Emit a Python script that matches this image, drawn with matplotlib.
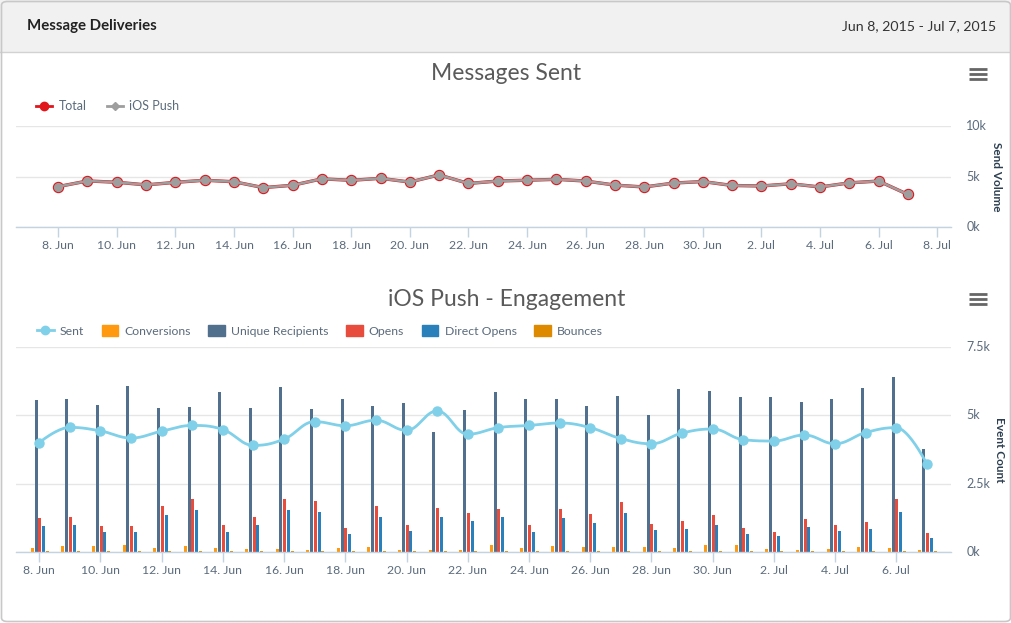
import numpy as np
import matplotlib
matplotlib.use('Agg')
import matplotlib.pyplot as plt
from matplotlib.patches import FancyBboxPatch, Rectangle, Patch
from matplotlib.lines import Line2D

plt.rcParams['font.family'] = ['Lato', 'DejaVu Sans']

# Days since 8 Jun 2015
days = list(range(30))
top_ticks = list(range(0, 31, 2))
top_tick_labels = ['8. Jun', '10. Jun', '12. Jun', '14. Jun', '16. Jun', '18. Jun',
                   '20. Jun', '22. Jun', '24. Jun', '26. Jun', '28. Jun', '30. Jun',
                   '2. Jul', '4. Jul', '6. Jul', '8. Jul']
bottom_ticks = top_ticks[:-1]
bottom_tick_labels = top_tick_labels[:-1]

# Messages sent (total and iOS push are the same series)
total_sent = [4000, 4560, 4430, 4170, 4420, 4630, 4480, 3900, 4130, 4770,
              4620, 4820, 4450, 5160, 4310, 4550, 4630, 4720, 4550, 4150,
              3960, 4350, 4500, 4110, 4060, 4280, 3960, 4370, 4550, 3220]
ios_sent = list(total_sent)

# Engagement
conversions = [150, 220, 220, 260, 150, 220, 150, 110, 110, 70,
               150, 180, 70, 70, 70, 260, 150, 220, 180, 180,
               180, 150, 260, 260, 110, 70, 110, 180, 150, 70]
unique_recipients = [5560, 5600, 5380, 6070, 5270, 5310, 5850, 5270, 6040, 5230,
                     5600, 5340, 5450, 4390, 5200, 5850, 5600, 5600, 5340, 5710,
                     5010, 5960, 5890, 5670, 5670, 5490, 5600, 6000, 6400, 3770]
opens = [1240, 1280, 950, 950, 1680, 1940, 990, 1280, 1940, 1870,
         880, 1680, 990, 1610, 1430, 1570, 990, 1570, 1390, 1830,
         1020, 1130, 1350, 880, 730, 1210, 990, 1100, 1940, 700]
direct_opens = [950, 990, 730, 730, 1350, 1540, 730, 990, 1540, 1460,
                660, 1280, 770, 1280, 1130, 1280, 730, 1240, 1060, 1430,
                800, 840, 990, 660, 590, 910, 770, 840, 1460, 510]
bounces = [30, 40, 30, 30, 40, 30, 30, 30, 40, 30,
           30, 30, 30, 30, 40, 30, 30, 30, 30, 40,
           30, 30, 30, 30, 30, 30, 30, 40, 30, 30]

C_TOTAL = '#e0161c'
C_IOS = '#9e9e9e'
C_SENT = '#7fd0e8'
C_CONV = '#ff9a10'
C_UNIQUE = '#51708d'
C_OPENS = '#e74c3c'
C_DIRECT = '#2a80ba'
C_BOUNCE = '#de8a00'
C_TEXT = '#5b6b7c'
C_AXIS = '#c5d2e0'
C_GRID = '#e6e6e6'

W, H = 1012, 623


def fx(px):
    return px / W


def fy(py):
    return 1 - py / H


def spline(x, y, smoothing=1.5, n=24):
    # Highcharts style spline through the points
    x = np.asarray(x, float)
    y = np.asarray(y, float)
    m = len(x)
    lc = np.column_stack([x, y]).copy()
    rc = lc.copy()
    for i in range(1, m - 1):
        lx = (smoothing * x[i] + x[i - 1]) / (smoothing + 1)
        ly = (smoothing * y[i] + y[i - 1]) / (smoothing + 1)
        rx = (smoothing * x[i] + x[i + 1]) / (smoothing + 1)
        ry = (smoothing * y[i] + y[i + 1]) / (smoothing + 1)
        corr = ((ry - ly) * (rx - x[i])) / (rx - lx) + y[i] - ry
        ly += corr
        ry += corr
        if ly > y[i - 1] and ly > y[i]:
            ly = max(y[i - 1], y[i]); ry = 2 * y[i] - ly
        elif ly < y[i - 1] and ly < y[i]:
            ly = min(y[i - 1], y[i]); ry = 2 * y[i] - ly
        if ry > y[i + 1] and ry > y[i]:
            ry = max(y[i + 1], y[i]); ly = 2 * y[i] - ry
        elif ry < y[i + 1] and ry < y[i]:
            ry = min(y[i + 1], y[i]); ly = 2 * y[i] - ry
        lc[i] = (lx, ly)
        rc[i] = (rx, ry)
    t = np.linspace(0, 1, n)[:, None]
    out = []
    for i in range(m - 1):
        p0 = np.array([x[i], y[i]]); p3 = np.array([x[i + 1], y[i + 1]])
        p1 = rc[i]; p2 = lc[i + 1]
        seg = ((1 - t) ** 3) * p0 + 3 * ((1 - t) ** 2) * t * p1 + 3 * (1 - t) * t ** 2 * p2 + t ** 3 * p3
        out.append(seg if i == 0 else seg[1:])
    out = np.vstack(out)
    return out[:, 0], out[:, 1]


def style_axis(ax, ticks, labels, yticks, ylabels, ylim):
    ax.set_ylim(*ylim)
    ax.set_yticks(yticks)
    ax.set_yticklabels(ylabels)
    ax.set_xticks(ticks)
    ax.set_xticklabels(labels)
    ax.yaxis.tick_right()
    ax.grid(axis='y', color=C_GRID, lw=1)
    ax.set_axisbelow(True)
    for s in ['top', 'left', 'right']:
        ax.spines[s].set_visible(False)
    ax.spines['bottom'].set_color(C_AXIS)
    ax.spines['bottom'].set_linewidth(1)
    ax.tick_params(axis='x', colors=C_AXIS, length=7, width=1, pad=2.5,
                   labelcolor=C_TEXT, labelsize=8.8)
    ax.tick_params(axis='y', length=0, pad=11, labelcolor=C_TEXT, labelsize=9)
    for lab in ax.get_yticklabels():
        lab.set_verticalalignment('center')


fig = plt.figure(figsize=(W / 100, H / 100), dpi=100)

# card background, header band, border
fig.patches.append(Rectangle((0, fy(52)), 1, 52 / H, transform=fig.transFigure,
                             facecolor='#f1f1f1', edgecolor='none', zorder=0))
fig.lines.append(Line2D([0, 1], [fy(52), fy(52)], transform=fig.transFigure,
                        color='#d2d2d2', lw=1))
fig.patches.append(FancyBboxPatch((fx(1.5), fy(621.5)), fx(1009), 620 / H,
                                  boxstyle='round,pad=0,rounding_size=0.006',
                                  transform=fig.transFigure, facecolor='none',
                                  edgecolor='#c8c8c8', lw=1.2, zorder=5))
fig.text(fx(27), fy(26), 'Message Deliveries', fontsize=10.8, fontweight='bold',
         color='#222222', va='center', ha='left')
fig.text(fx(996), fy(26), 'Jun 8, 2015 - Jul 7, 2015', fontsize=10.2,
         color='#333333', va='center', ha='right')

# hamburger menus
for cy in (74, 299):
    for dy in (-5, 0, 5):
        fig.lines.append(Line2D([fx(969), fx(987)], [fy(cy + dy), fy(cy + dy)],
                                transform=fig.transFigure, color='#666666',
                                lw=2.0, solid_capstyle='butt'))

# ---- Messages Sent ----
ax1 = fig.add_axes([fx(16), fy(227), fx(951 - 16), 101 / H])
ax1.set_xlim(-1.44, 30.47)
ax1.plot(days, total_sent, color=C_TOTAL, lw=2.4, marker='o', ms=7.2,
         markerfacecolor=C_TOTAL, markeredgecolor=C_TOTAL, zorder=3)
ax1.plot(days, ios_sent, color=C_IOS, lw=1.8, marker='o', ms=5.6,
         markerfacecolor=C_IOS, markeredgecolor=C_IOS, zorder=4)
style_axis(ax1, top_ticks, top_tick_labels, [0, 5000, 10000],
           ['0k', '5k', '10k'], (0, 10000))
fig.text(fx(506), fy(74), 'Messages Sent', fontsize=16.5,
         color='#5a5a5a', ha='center', va='center')
fig.text(fx(997), fy(177), 'Send Volume', fontsize=8.5, fontweight='bold',
         color='#2c3e50', rotation=-90, ha='center', va='center')
leg1 = fig.legend(handles=[
    Line2D([], [], color=C_TOTAL, lw=2, marker='o', ms=6),
    Line2D([], [], color=C_IOS, lw=2, marker='D', ms=4.5)],
    labels=['Total', 'iOS Push'], loc='center left',
    bbox_to_anchor=(fx(36), fy(106)), ncol=2, frameon=False, fontsize=9,
    handlelength=1.3, handletextpad=0.5, columnspacing=1.6,
    borderpad=0, borderaxespad=0)
for t in leg1.get_texts():
    t.set_color(C_TEXT)

# ---- iOS Push - Engagement ----
ax2 = fig.add_axes([fx(16), fy(552), fx(951 - 16), 205 / H])
ax2.set_xlim(-0.76, 29.79)
x = np.array(days, float)
step = 0.124
bw = 0.098
series = [(conversions, C_CONV), (unique_recipients, C_UNIQUE), (opens, C_OPENS),
          (direct_opens, C_DIRECT), (bounces, C_BOUNCE)]
for k, (vals, col) in enumerate(series):
    ax2.bar(x + (k - 2) * step + 0.02, vals, width=bw, color=col, zorder=2,
            linewidth=0)
sx, sy = spline(days, total_sent)
ax2.plot(sx, sy, color=C_SENT, lw=2, zorder=4)
ax2.plot(days, total_sent, 'o', color=C_SENT, ms=6.5, zorder=5)
style_axis(ax2, bottom_ticks, bottom_tick_labels, [0, 2500, 5000, 7500],
           ['0k', '2.5k', '5k', '7.5k'], (0, 7500))
fig.text(fx(507), fy(299), 'iOS Push - Engagement', fontsize=16.5,
         color='#5a5a5a', ha='center', va='center')
fig.text(fx(1000), fy(450), 'Event Count', fontsize=8.5, fontweight='bold',
         color='#2c3e50', rotation=-90, ha='center', va='center')
leg2 = fig.legend(handles=[
    Line2D([], [], color=C_SENT, lw=2, marker='o', ms=6),
    Patch(color=C_CONV), Patch(color=C_UNIQUE), Patch(color=C_OPENS),
    Patch(color=C_DIRECT), Patch(color=C_BOUNCE)],
    labels=['Sent', 'Conversions', 'Unique Recipients', 'Opens',
            'Direct Opens', 'Bounces'],
    loc='center left', bbox_to_anchor=(fx(37), fy(331)), ncol=6,
    frameon=False, fontsize=8.8, handlelength=1.35, handleheight=0.95,
    handletextpad=0.5, columnspacing=1.45, borderpad=0, borderaxespad=0)
for t in leg2.get_texts():
    t.set_color(C_TEXT)

fig.savefig('out.png', dpi=100, facecolor='white')
